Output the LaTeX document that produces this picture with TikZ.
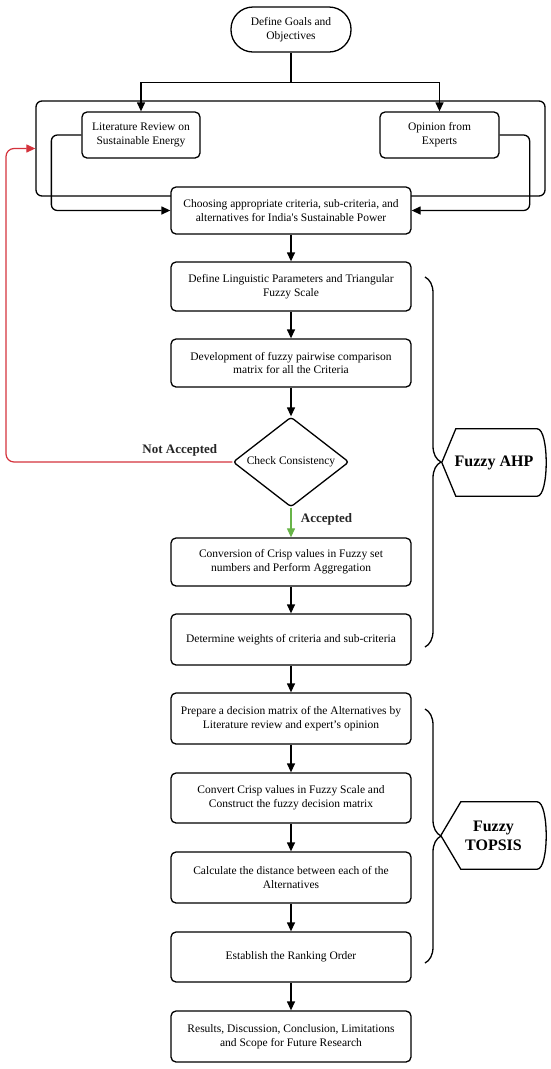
\documentclass[tikz,border=0pt]{standalone}
\usepackage{fontspec}
\setmainfont{Liberation Serif}
\usetikzlibrary{arrows.meta,shapes.geometric,decorations.pathreplacing,calc}
\definecolor{redline}{RGB}{212,50,60}
\definecolor{greenline}{RGB}{104,180,72}
\begin{document}
\begin{tikzpicture}[x=1pt,y=1pt,
  line/.style={line width=1.3pt},
  arr/.style={line width=1.3pt,-{Triangle[width=8pt,length=9pt]}},
  redarr/.style={line width=1.2pt,draw=redline,-{Triangle[width=8pt,length=9pt]}},
  greenarr/.style={line width=1.2pt,draw=greenline,-{Triangle[width=8pt,length=9pt]}},
  box/.style={draw,line width=1.3pt,rounded corners=5pt,fill=white,minimum width=240pt,minimum height=49pt,align=center,inner sep=2pt,font=\fontsize{11.5}{13.8}\selectfont},
  smallbox/.style={box,minimum width=119pt,minimum height=46pt},
  term/.style={box,minimum width=120pt,minimum height=45pt,rounded corners=22pt},
  decision/.style={draw,line width=1.3pt,diamond,fill=white,aspect=1.29,minimum width=116pt,minimum height=90pt,inner sep=0pt,rounded corners=3pt,font=\fontsize{11.5}{13.8}\selectfont},
  lbl/.style={font=\fontsize{13}{15}\selectfont\bfseries},
  title/.style={draw=none,minimum width=104pt,minimum height=67pt,align=center,inner sep=0pt,font=\fontsize{16}{19}\selectfont\bfseries},
  shapeline/.style={line width=1.3pt},
  bracestyle/.style={line width=1.3pt,decorate,decoration={brace,amplitude=16pt}}
]
\useasboundingbox (0,0) rectangle (550,-1069);

% group frame
\node[draw,line width=1.3pt,rounded corners=6pt,minimum width=509pt,minimum height=95pt,inner sep=0pt] (grp) at (290.5,-148.5) {};

% nodes
\node[term] (goal) at (291,-29.5) {Define Goals and\\Objectives};
\node[smallbox,minimum width=118pt] (lit) at (141,-135) {Literature Review on\\Sustainable Energy};
\node[smallbox] (op) at (439.5,-135) {Opinion from\\Experts};
\node[box,minimum height=47pt] (choose) at (291,-210.5) {Choosing appropriate criteria, sub-criteria, and\\alternatives for India\textquotesingle s Sustainable Power};
\node[box] (ling) at (291,-286.5) {Define Linguistic Parameters and Triangular\\Fuzzy Scale};
\node[box,minimum height=48pt] (dev) at (291,-363) {Development of fuzzy pairwise comparison\\matrix for all the Criteria};
\node[decision] (chk) at (291,-462) {Check Consistency};
\node[box,minimum height=48pt] (conv) at (291,-562) {Conversion of Crisp values in Fuzzy set\\numbers and Perform Aggregation};
\node[box,minimum height=51pt] (det) at (291,-639.5) {Determine weights of criteria and sub-criteria};
\node[box,minimum height=51pt] (prep) at (291,-718.5) {Prepare a decision matrix of the Alternatives by\\Literature review and expert’s opinion};
\node[box,minimum height=50pt] (cvt) at (291,-798) {Convert Crisp values in Fuzzy Scale and\\Construct the fuzzy decision matrix};
\node[box,minimum height=51pt] (calc) at (291,-877.5) {Calculate the distance between each of the\\Alternatives};
\node[box,minimum height=50pt] (est) at (291,-957) {Establish the Ranking Order};
\node[box,minimum height=51pt] (res) at (291,-1036.5) {Results, Discussion, Conclusion, Limitations\\and Scope for Future Research};

% top split
\draw[line] (goal.south) -- ++(0,-30) coordinate (split);
\draw[arr] (split) -| (lit.north);
\draw[arr] (split) -| (op.north);

% loops into choosing box
\draw[arr,rounded corners=6pt] (lit.west) -- ++(-30,0) |- (choose.west);
\draw[arr,rounded corners=6pt] (op.east) -- ++(30,0) |- (choose.east);

% main chain
\draw[arr] (choose) -- (ling);
\draw[arr] (ling) -- (dev);
\draw[arr] (dev) -- (chk);
\draw[greenarr] (chk.south) -- node[right=6pt,yshift=3pt,lbl,text=black!85] {Accepted} (conv.north);
\draw[arr] (conv) -- (det);
\draw[arr] (det) -- (prep);
\draw[arr] (prep) -- (cvt);
\draw[arr] (cvt) -- (calc);
\draw[arr] (calc) -- (est);
\draw[arr] (est) -- (res);

% not accepted loop
\coordinate (redx) at (6,0);
\draw[redarr,rounded corners=8pt] (chk.west) -- node[pos=0.06,anchor=south east,inner sep=1pt,yshift=4pt,lbl,text=black!85] {Not Accepted} (chk.west -| redx) |- (grp.west);

% braces
\coordinate (ahpA) at (425,-277);
\coordinate (ahpB) at (425,-647);
\coordinate (topA) at (425,-709);
\coordinate (topB) at (425,-963);
\draw[bracestyle] (ahpA) -- (ahpB);
\draw[bracestyle] (topA) -- (topB);

% labels
\node[title] (ahp) at (494,-462.5) {Fuzzy AHP};
\draw[shapeline] (ahp.west) -- ($(ahp.north west)+(14,0)$) -- ($(ahp.north east)+(-9,0)$) .. controls ($(ahp.north east)+(3,0)$) and ($(ahp.south east)+(3,0)$) .. ($(ahp.south east)+(-9,0)$) -- ($(ahp.south west)+(14,0)$) -- cycle;
\node[title,minimum width=105pt] (tops) at (493.5,-835.5) {Fuzzy\\TOPSIS};
\draw[shapeline] (tops.west) -- ($(tops.north west)+(20,0)$) -- ($(tops.north east)+(-9,0)$) .. controls ($(tops.north east)+(3,0)$) and ($(tops.south east)+(3,0)$) .. ($(tops.south east)+(-9,0)$) -- ($(tops.south west)+(20,0)$) -- cycle;
\end{tikzpicture}
\end{document}
